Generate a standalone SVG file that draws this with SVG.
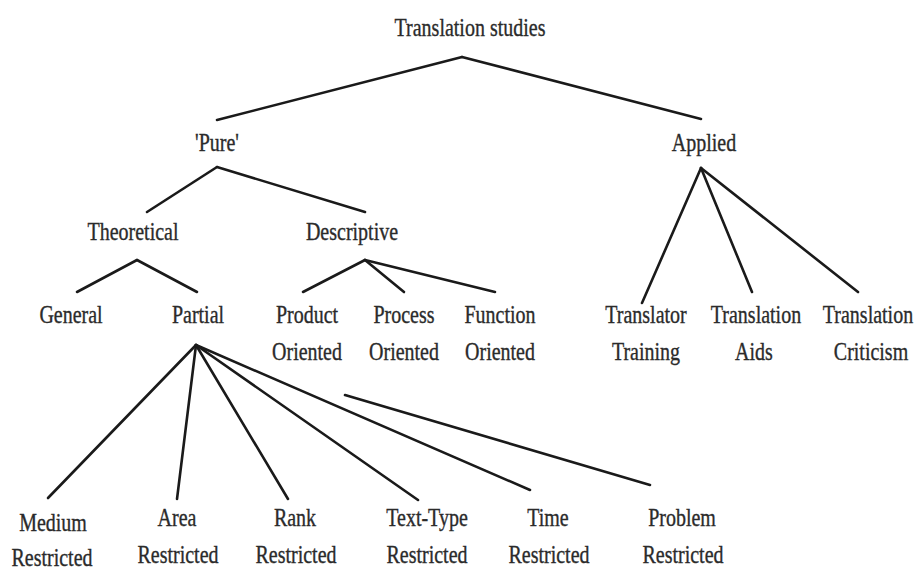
<svg xmlns="http://www.w3.org/2000/svg" width="924" height="572" viewBox="0 0 924 572">
<style>
  text { font-family: "Liberation Serif", "Times New Roman", serif; font-size: 25px; fill: #2b2b2b; stroke: #2b2b2b; stroke-width: 0.35; text-anchor: middle; }
  .edge { stroke: #1a1a1a; stroke-width: 2.6; stroke-linecap: round; fill: none; }
</style>
<rect width="924" height="572" fill="#ffffff"/>
<g id="connectors">
  <line class="edge" x1="462" y1="57" x2="217" y2="120"/>
  <line class="edge" x1="462" y1="57" x2="701" y2="119"/>
  <line class="edge" x1="217" y1="167" x2="147" y2="212"/>
  <line class="edge" x1="217" y1="167" x2="365" y2="212"/>
  <line class="edge" x1="137" y1="260" x2="77" y2="292"/>
  <line class="edge" x1="137" y1="260" x2="197" y2="292"/>
  <line class="edge" x1="365" y1="260" x2="303" y2="292"/>
  <line class="edge" x1="365" y1="260" x2="404" y2="292"/>
  <line class="edge" x1="365" y1="260" x2="495" y2="292"/>
  <line class="edge" x1="701" y1="168" x2="642" y2="303"/>
  <line class="edge" x1="701" y1="168" x2="752" y2="292"/>
  <line class="edge" x1="701" y1="168" x2="858" y2="292"/>
  <line class="edge" x1="196" y1="345" x2="48" y2="498"/>
  <line class="edge" x1="196" y1="345" x2="177" y2="499"/>
  <line class="edge" x1="196" y1="345" x2="288" y2="499"/>
  <line class="edge" x1="196" y1="345" x2="418" y2="500"/>
  <line class="edge" x1="196" y1="345" x2="530" y2="490"/>
  <line class="edge" x1="345" y1="395" x2="650" y2="485"/>
</g>
<g id="n-translation-studies"><text transform="translate(470 36) scale(0.8 1)">Translation studies</text></g>
<g id="n-pure"><text transform="translate(217 151) scale(0.8 1)">'Pure'</text></g>
<g id="n-applied"><text transform="translate(704 151) scale(0.8 1)">Applied</text></g>
<g id="n-theoretical"><text transform="translate(133 240) scale(0.8 1)">Theoretical</text></g>
<g id="n-descriptive"><text transform="translate(352 240) scale(0.8 1)">Descriptive</text></g>
<g id="n-general"><text transform="translate(71 323) scale(0.8 1)">General</text></g>
<g id="n-partial"><text transform="translate(198 323) scale(0.8 1)">Partial</text></g>
<g id="n-product"><text transform="translate(307 323) scale(0.8 1)">Product</text><text transform="translate(307 360) scale(0.8 1)">Oriented</text></g>
<g id="n-process"><text transform="translate(404 323) scale(0.8 1)">Process</text><text transform="translate(404 360) scale(0.8 1)">Oriented</text></g>
<g id="n-function"><text transform="translate(500 323) scale(0.8 1)">Function</text><text transform="translate(500 360) scale(0.8 1)">Oriented</text></g>
<g id="n-translator-training"><text transform="translate(646 323) scale(0.8 1)">Translator</text><text transform="translate(646 360) scale(0.8 1)">Training</text></g>
<g id="n-translation-aids"><text transform="translate(756 323) scale(0.8 1)">Translation</text><text transform="translate(754 360) scale(0.8 1)">Aids</text></g>
<g id="n-translation-criticism"><text transform="translate(868 323) scale(0.8 1)">Translation</text><text transform="translate(871 360) scale(0.8 1)">Criticism</text></g>
<g id="n-medium"><text transform="translate(53 531) scale(0.8 1)">Medium</text><text transform="translate(52 566) scale(0.8 1)">Restricted</text></g>
<g id="n-area"><text transform="translate(177 526) scale(0.8 1)">Area</text><text transform="translate(178 563) scale(0.8 1)">Restricted</text></g>
<g id="n-rank"><text transform="translate(295 526) scale(0.8 1)">Rank</text><text transform="translate(296 563) scale(0.8 1)">Restricted</text></g>
<g id="n-text-type"><text transform="translate(427 526) scale(0.8 1)">Text-Type</text><text transform="translate(427 563) scale(0.8 1)">Restricted</text></g>
<g id="n-time"><text transform="translate(548 526) scale(0.8 1)">Time</text><text transform="translate(549 563) scale(0.8 1)">Restricted</text></g>
<g id="n-problem"><text transform="translate(682 526) scale(0.8 1)">Problem</text><text transform="translate(683 563) scale(0.8 1)">Restricted</text></g>
</svg>
